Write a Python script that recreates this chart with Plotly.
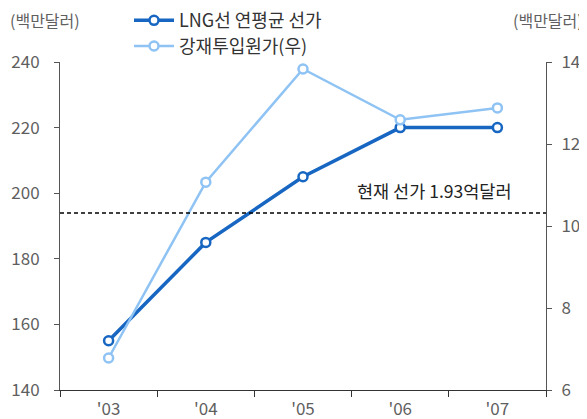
import plotly.graph_objects as go

years = ["'03", "'04", "'05", "'06", "'07"]
lng_price = [155, 185, 205, 220, 220]
steel_cost = [6.78, 11.07, 13.83, 12.59, 12.88]
current_price = 194
left_ticks = [140, 160, 180, 200, 220, 240]
right_ticks = [6, 8, 10, 12, 14]

dark = "#1766C2"
light = "#8EC3F4"
grey = "#5f5f5f"
font = "Noto Sans CJK KR"

fig = go.Figure()
fig.add_trace(go.Scatter(
    x=years, y=lng_price, name="LNG선 연평균 선가", mode="lines+markers",
    line=dict(color=dark, width=3.5), legend="legend",
    marker=dict(symbol="circle", size=9, color="white", line=dict(color=dark, width=2.5)),
))
fig.add_trace(go.Scatter(
    x=years, y=steel_cost, name="강재투입원가(우)", mode="lines+markers", yaxis="y2",
    line=dict(color=light, width=2.5), legend="legend2",
    marker=dict(symbol="circle", size=9, color="white", line=dict(color=light, width=2.5)),
))

fig.add_shape(type="line", xref="paper", x0=0, x1=1, yref="y", y0=current_price, y1=current_price,
              line=dict(color="black", width=1.5, dash="4px,3px"))
fig.add_annotation(xref="paper", x=0.935, yref="y", y=current_price, yanchor="bottom", xanchor="right",
                   yshift=8, text="현재 선가 1.93억달러", showarrow=False,
                   font=dict(family=font, size=17.5, color="#222222"))

fig.add_annotation(xref="paper", yref="paper", x=-0.107, y=1.128, xanchor="left", yanchor="middle",
                   text="(백만달러)", showarrow=False, font=dict(family=font, size=16, color=grey))
fig.add_annotation(xref="paper", yref="paper", x=1.08, y=1.128, xanchor="right", yanchor="middle",
                   text="(백만달러)", showarrow=False, font=dict(family=font, size=16, color=grey))

legend_style = dict(xanchor="left", yanchor="middle", bgcolor="rgba(0,0,0,0)",
                    font=dict(family=font, size=18, color="#333333"), itemwidth=40)

fig.update_layout(
    width=579, height=411,
    margin=dict(l=52, r=41, t=54, b=29, autoexpand=False),
    paper_bgcolor="white", plot_bgcolor="white",
    font=dict(family=font, size=16, color=grey),
    showlegend=True,
    legend=dict(x=0.142, y=1.126, **legend_style),
    legend2=dict(x=0.142, y=1.048, **legend_style),
    xaxis=dict(type="category", tickson="boundaries", ticks="outside", ticklen=6, tickcolor="#333333",
               showline=True, linecolor="#333333", linewidth=1, showgrid=False, ticklabelstandoff=4,
               range=[-0.5, 4.5], tickfont=dict(family=font, size=17, color=grey)),
    yaxis=dict(range=[140, 240], tickvals=left_ticks, ticks="outside", ticklen=5, tickcolor="#555555",
               showline=True, linecolor="#555555", linewidth=1, showgrid=False, zeroline=False,
               ticklabelstandoff=11, tickfont=dict(family=font, size=17, color=grey)),
    yaxis2=dict(range=[6, 14], tickvals=right_ticks, overlaying="y", side="right", ticks="outside",
                ticklen=5, tickcolor="#555555", showline=True, linecolor="#555555", linewidth=1,
                showgrid=False, zeroline=False, ticklabelstandoff=6,
                tickfont=dict(family=font, size=17, color=grey)),
)

fig.write_html("out.html")
